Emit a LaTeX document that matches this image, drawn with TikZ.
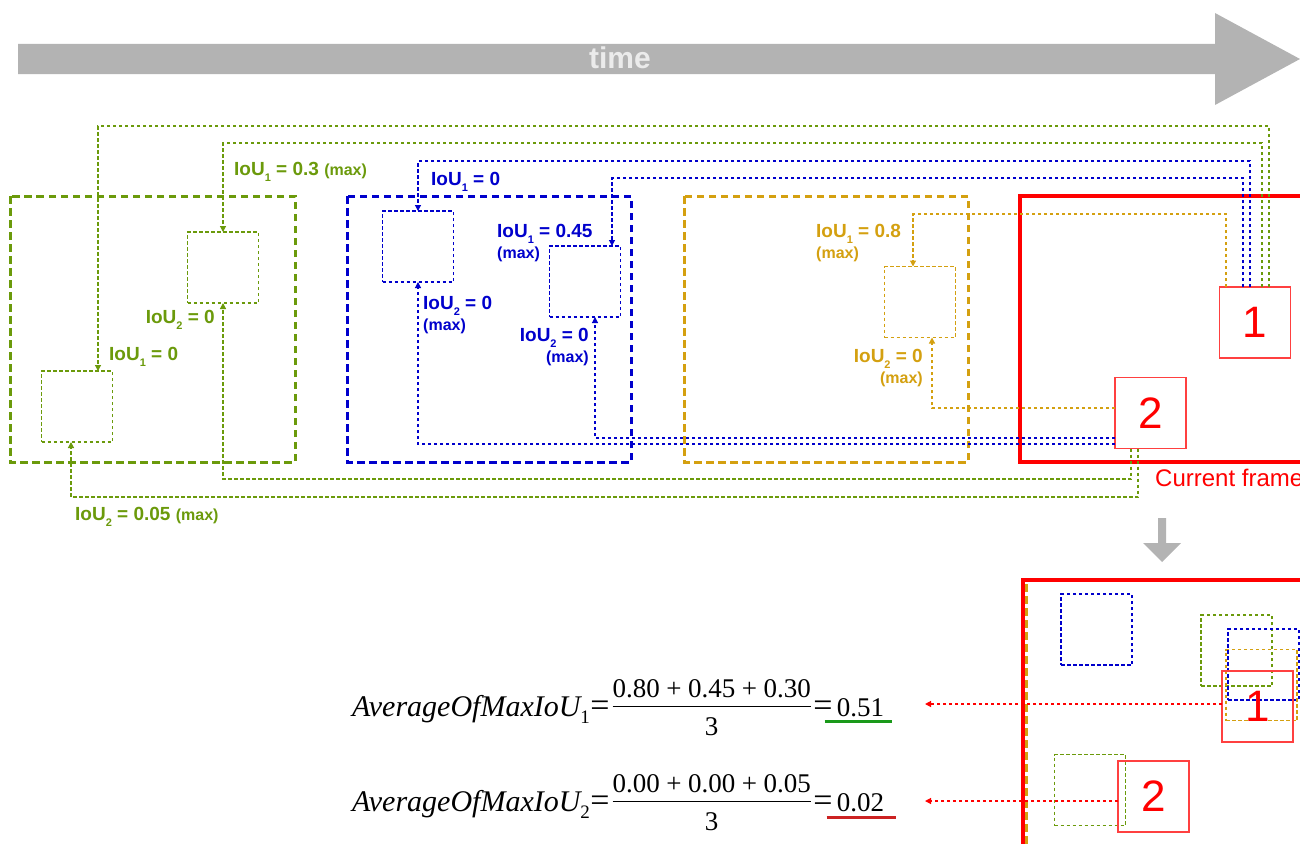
\documentclass[tikz,border=0pt]{standalone}
\usepackage{fontspec}
\setmainfont{Liberation Serif}
\newfontfamily\labelfont{Liberation Sans}
\usetikzlibrary{arrows.meta,positioning}
\definecolor{TrkGreen}{HTML}{6B9A0B}
\definecolor{TrkBlue}{HTML}{0000CC}
\definecolor{TrkGold}{HTML}{D4A010}
\definecolor{TrkRed}{HTML}{FF0000}
\definecolor{ArrowGray}{HTML}{B3B3B3}
\definecolor{UlGreen}{HTML}{1A991A}
\definecolor{UlRed}{HTML}{CC2222}
\newcommand{\iou}[2]{IoU\raisebox{-6pt}{\fontsize{11}{11}\selectfont #1} = #2}
\newcommand{\maxtag}{{\fontsize{16}{16}\selectfont (max)}}
\newcommand{\avgname}[1]{{\fontsize{30}{36}\selectfont\itshape AverageOfMaxIoU}\raisebox{-7pt}{\fontsize{19}{19}\selectfont #1}}
\newcommand{\pl}{\hspace{6.5pt}+\hspace{6.5pt}}
\newcommand{\eqs}{\hspace{0.5pt}{\fontsize{34}{34}\selectfont=}\hspace{1pt}}
\newcommand{\fracbox}[2]{\hspace{2pt}\begin{tabular}[c]{@{}c@{}}#1\\[-1pt]\hline\rule{0pt}{28pt}#2\end{tabular}\hspace{2pt}}
\setlength{\arrayrulewidth}{1.6pt}
\tikzset{
  bigframe/.style={dash pattern=on 7.5pt off 4.5pt,line width=3pt},
  dotbox/.style={draw,dash pattern=on 3.5pt off 2.5pt,line width=1.3pt,minimum width=71pt,minimum height=71pt,inner sep=0pt,outer sep=0pt},
  detbox/.style={draw=TrkRed!75,line width=1.2pt,minimum width=71pt,minimum height=71pt,inner sep=0pt,outer sep=0pt,text=TrkRed,font=\labelfont\fontsize{44}{44}\selectfont},
  trackline/.style={dash pattern=on 3.5pt off 2.5pt,line width=1.2pt,-{Triangle[length=6pt,width=6pt]}},
  ioulabel/.style={font=\labelfont\bfseries\fontsize{19}{21}\selectfont,inner sep=0pt},
  eqtext/.style={font=\fontsize{27}{32}\selectfont,inner sep=0pt},
  uline/.style={line width=3pt}
}
\begin{document}
\begin{tikzpicture}[x=1pt,y=-1pt]
\useasboundingbox (0,0) rectangle (1300,843);
% time arrow
\fill[ArrowGray] (18,44) -- (1215,44) -- (1215,13) -- (1300,59) -- (1215,105) -- (1215,74) -- (18,74) -- cycle;
\node[font=\labelfont\bfseries\fontsize{30}{30}\selectfont,text=white!92!black] (timelbl) at (620,58) {time};
% past frames and current frame
\draw[bigframe,draw=TrkGreen] (10,196) rectangle (295,462);
\draw[bigframe,draw=TrkBlue] (347,196) rectangle (631,462);
\draw[bigframe,draw=TrkGold] (684,196) rectangle (968,462);
\draw[draw=TrkRed,line width=3.5pt] (1020,196) rectangle (1345,462);
\node[font=\labelfont\fontsize{24}{24}\selectfont,text=TrkRed,anchor=north west,inner sep=0pt] (curlbl) at (1155,469) {Current frame};
% tracked boxes
\node[dotbox,draw=TrkGreen] (gA) at (223,267.5) {};
\node[dotbox,draw=TrkGreen] (gB) at (77,406.5) {};
\node[dotbox,draw=TrkBlue] (bA) at (418,246.5) {};
\node[dotbox,draw=TrkBlue] (bB) at (585,281.5) {};
\node[dotbox,draw=TrkGold] (oA) at (920,302) {};
\node[detbox] (r1) at (1255,322.5) {1};
\node[detbox] (r2) at (1150.5,413) {2};
% links from detection 1
\draw[trackline,draw=TrkGold] ([xshift=-29pt]r1.north) -- ++(0,-73) -| ([xshift=-7pt]oA.north);
\draw[trackline,draw=TrkBlue] ([xshift=-12pt]r1.north) -- ++(0,-109) -| ([xshift=27pt]bB.north);
\draw[trackline,draw=TrkBlue] ([xshift=-5pt]r1.north) -- ++(0,-126) -| (bA.north);
\draw[trackline,draw=TrkGreen] ([xshift=7pt]r1.north) -- ++(0,-144) -| (gA.north);
\draw[trackline,draw=TrkGreen] ([xshift=14pt]r1.north) -- ++(0,-161) -| ([xshift=21pt]gB.north);
% links from detection 2
\draw[trackline,draw=TrkGold] ([yshift=5pt]r2.west) -| ([xshift=12pt]oA.south);
\draw[trackline,draw=TrkBlue] ([yshift=-25pt]r2.west) -| ([xshift=10pt]bB.south);
\draw[trackline,draw=TrkBlue] ([yshift=-31pt]r2.west) -| (bA.south);
\draw[trackline,draw=TrkGreen] ([xshift=-19.5pt]r2.south) -- ++(0,30.5) -| (gA.south);
\draw[trackline,draw=TrkGreen] ([xshift=-12.5pt]r2.south) -- ++(0,48.5) -| ([xshift=-6pt]gB.south);
% IoU labels
\node[ioulabel,text=TrkGreen,anchor=north west] (lgA1) at (234,162) {\iou{1}{0.3} \maxtag};
\node[ioulabel,text=TrkGreen,anchor=north east] (lgA2) at (215,310) {\iou{2}{0}};
\node[ioulabel,text=TrkGreen,anchor=north west] (lgB1) at (109,347) {\iou{1}{0}};
\node[ioulabel,text=TrkGreen,anchor=north west] (lgB2) at (75,507) {\iou{2}{0.05} \maxtag};
\node[ioulabel,text=TrkBlue,anchor=north west] (lbA1) at (431,172) {\iou{1}{0}};
\node[ioulabel,text=TrkBlue,anchor=north west,align=left] (lbB1) at (497,224) {\iou{1}{0.45}\\\maxtag};
\node[ioulabel,text=TrkBlue,anchor=north west,align=left] (lbA2) at (423,296) {\iou{2}{0}\\\maxtag};
\node[ioulabel,text=TrkBlue,anchor=north east,align=right] (lbB2) at (589,328) {\iou{2}{0}\\\maxtag};
\node[ioulabel,text=TrkGold,anchor=north west,align=left] (loA1) at (816,224) {\iou{1}{0.8}\\\maxtag};
\node[ioulabel,text=TrkGold,anchor=north east,align=right] (loA2) at (923,349) {\iou{2}{0}\\\maxtag};
% step down to the summary
\fill[ArrowGray] (1158,518) -- (1166,518) -- (1166,543) -- (1181,543) -- (1162,562) -- (1143,543) -- (1158,543) -- cycle;
\draw[TrkGold,bigframe] (1026,584) -- (1026,900);
\draw[draw=TrkRed,line width=3.5pt] (1023,580) rectangle (1345,900);
\node[dotbox,draw=TrkBlue] (bA2) at (1096.5,629.5) {};
\node[dotbox,draw=TrkGreen] (gA2) at (1236.5,650.5) {};
\node[dotbox,draw=TrkBlue] (bB2) at (1263.5,664.5) {};
\node[dotbox,draw=TrkGold] (oA2) at (1261.5,685) {};
\node[dotbox,draw=TrkGreen] (gB2) at (1090,790) {};
\node[detbox] (r1b) at (1257.5,706.5) {1};
\node[detbox] (r2b) at (1153.5,796.5) {2};
\coordinate (e1) at (925,704);
\coordinate (e2) at (925,801);
\draw[trackline,draw=TrkRed] ([yshift=2.5pt]r1b.west) -- (e1);
\draw[trackline,draw=TrkRed] ([yshift=-4.5pt]r2b.west) -- (e2);
% averages
\node[eqtext,anchor=base west] (eq1) at (352,716) {\avgname{1}\eqs\fracbox{0.80\pl0.45\pl0.30}{3}\eqs};
\node[eqtext,anchor=base west,xshift=4pt] (v1) at (eq1.base east) {0.51};
\node[eqtext,anchor=base west] (eq2) at (352,811) {\avgname{2}\eqs\fracbox{0.00\pl0.00\pl0.05}{3}\eqs};
\node[eqtext,anchor=base west,xshift=4pt] (v2) at (eq2.base east) {0.02};
\draw[uline,draw=UlGreen] ([xshift=-12pt,yshift=-5pt]v1.base west) -- ([xshift=8pt,yshift=-5pt]v1.base east);
\draw[uline,draw=UlRed] ([xshift=-10pt,yshift=-6pt]v2.base west) -- ([xshift=12pt,yshift=-6pt]v2.base east);
\end{tikzpicture}
\end{document}
